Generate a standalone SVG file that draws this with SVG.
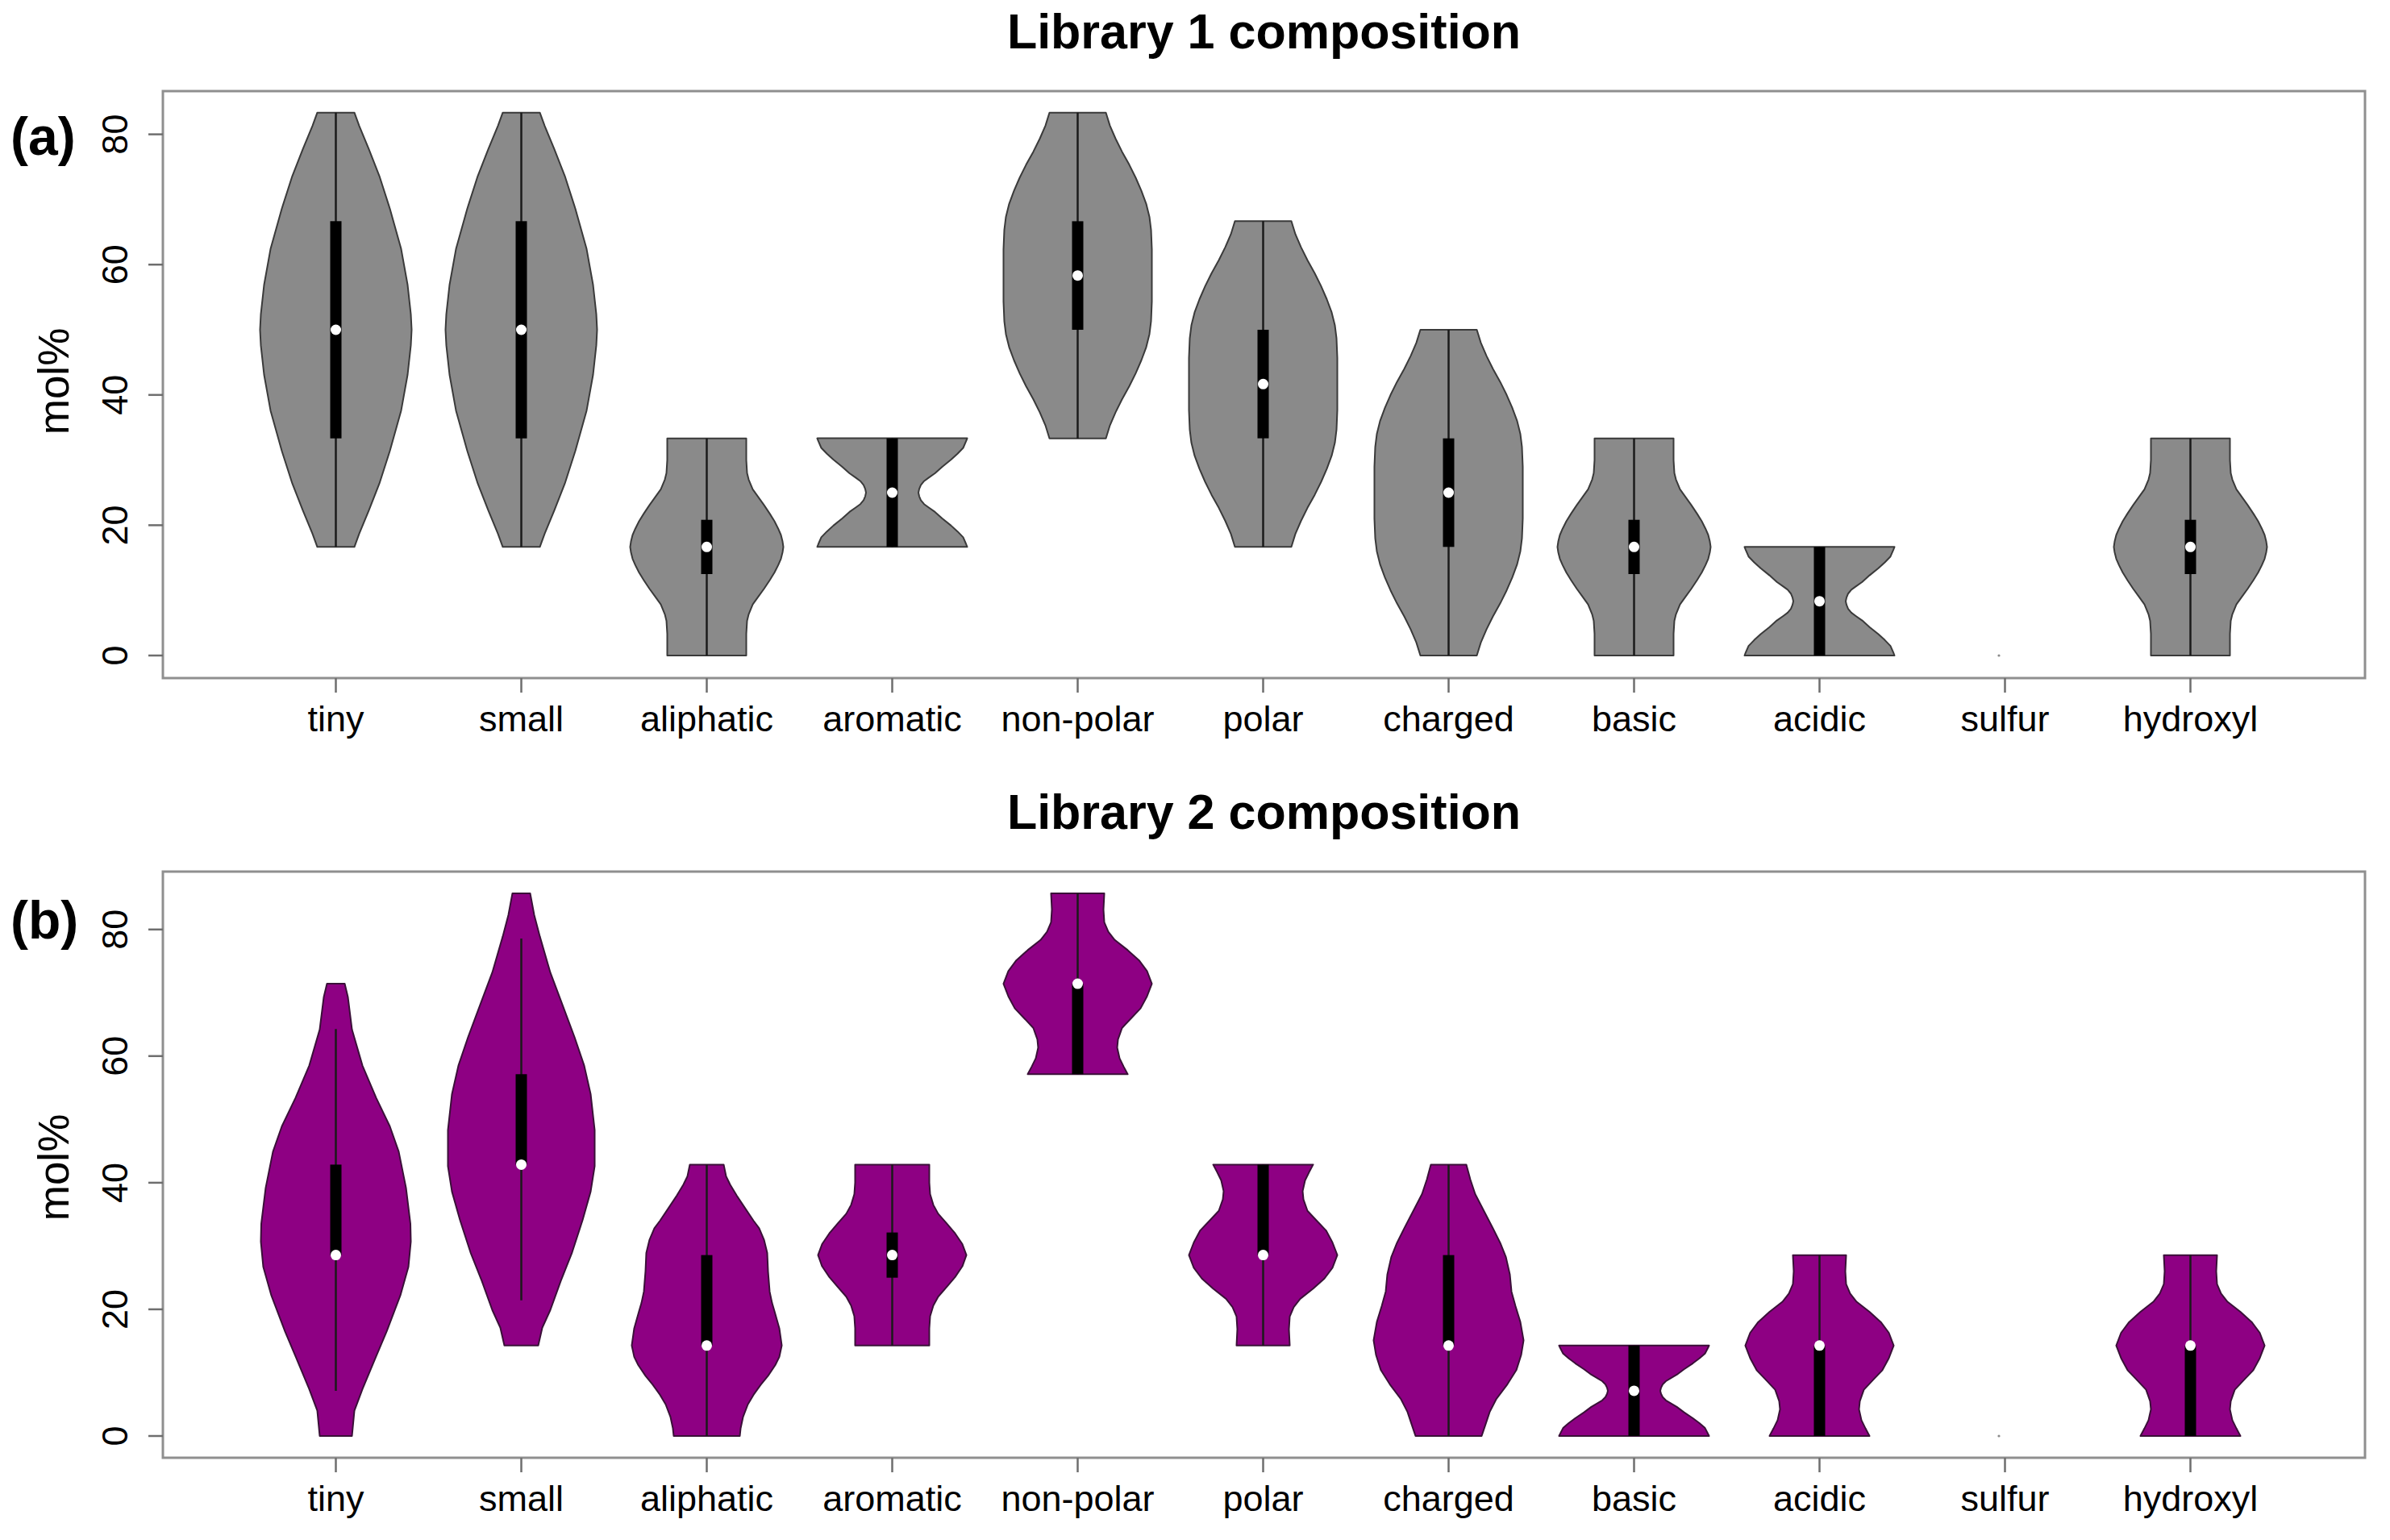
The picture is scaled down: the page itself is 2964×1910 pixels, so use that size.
<svg xmlns="http://www.w3.org/2000/svg" width="2964" height="1910" viewBox="0 0 2964 1910">
<style>
text{font-family:"Liberation Sans",Arial,Helvetica,sans-serif;fill:#000}
.ttl{font-size:61px;font-weight:bold;text-anchor:middle}
.pl{font-size:66px;font-weight:bold}
.yl{font-size:45px;text-anchor:middle}
.xl{font-size:45px;text-anchor:middle}
.lab{font-size:53px;text-anchor:middle}
.frame{fill:none;stroke:#8f8f8f;stroke-width:3}
.tk{stroke:#6e6e6e;stroke-width:2.5}
.va{fill:#8a8a8a;stroke:#3a3a3a;stroke-width:2;stroke-linejoin:round;vector-effect:non-scaling-stroke}
.vb{fill:#8e0083;stroke:#3a1038;stroke-width:2;stroke-linejoin:round;vector-effect:non-scaling-stroke}
.wh{stroke:#1a1a1a;stroke-width:2.5;vector-effect:non-scaling-stroke}
.bar{fill:#000}
.med{fill:#fff}
.dot{fill:#8a8a8a}
</style>
<rect width="2964" height="1910" fill="#fff"/>

<!-- Panel (a) -->
<g id="panel-a-axes">
<text class="ttl" x="1567.5" y="60">Library 1 composition</text>
<text class="pl" x="13" y="192">(a)</text>
<rect class="frame" x="202" y="113" width="2731" height="728"/>
<line class="tk" x1="184" y1="813" x2="202" y2="813"/>
<line class="tk" x1="184" y1="651.4" x2="202" y2="651.4"/>
<line class="tk" x1="184" y1="489.8" x2="202" y2="489.8"/>
<line class="tk" x1="184" y1="328.2" x2="202" y2="328.2"/>
<line class="tk" x1="184" y1="166.6" x2="202" y2="166.6"/>
<text class="yl" transform="translate(158 813) rotate(-90)">0</text>
<text class="yl" transform="translate(158 651.4) rotate(-90)">20</text>
<text class="yl" transform="translate(158 489.8) rotate(-90)">40</text>
<text class="yl" transform="translate(158 328.2) rotate(-90)">60</text>
<text class="yl" transform="translate(158 166.6) rotate(-90)">80</text>
<text class="lab" transform="translate(85 473) rotate(-90)">mol%</text>
<g class="tk">
<line x1="416.5" y1="841" x2="416.5" y2="859"/><line x1="646.5" y1="841" x2="646.5" y2="859"/><line x1="876.5" y1="841" x2="876.5" y2="859"/><line x1="1106.5" y1="841" x2="1106.5" y2="859"/><line x1="1336.5" y1="841" x2="1336.5" y2="859"/><line x1="1566.5" y1="841" x2="1566.5" y2="859"/><line x1="1796.5" y1="841" x2="1796.5" y2="859"/><line x1="2026.5" y1="841" x2="2026.5" y2="859"/><line x1="2256.5" y1="841" x2="2256.5" y2="859"/><line x1="2486.5" y1="841" x2="2486.5" y2="859"/><line x1="2716.5" y1="841" x2="2716.5" y2="859"/>
</g>
<text class="xl" x="416.5" y="907">tiny</text>
<text class="xl" x="646.5" y="907">small</text>
<text class="xl" x="876.5" y="907">aliphatic</text>
<text class="xl" x="1106.5" y="907">aromatic</text>
<text class="xl" x="1336.5" y="907">non-polar</text>
<text class="xl" x="1566.5" y="907">polar</text>
<text class="xl" x="1796.5" y="907">charged</text>
<text class="xl" x="2026.5" y="907">basic</text>
<text class="xl" x="2256.5" y="907">acidic</text>
<text class="xl" x="2486.5" y="907">sulfur</text>
<text class="xl" x="2716.5" y="907">hydroxyl</text>
</g>

<g id="a-tiny"><g transform="translate(416.5 813) scale(1 -8.08)"><path class="va" d="M23,83.33 L29,81.3 L41,77.7 L54,73.6 L67,68.6 L81,62.4 L89,56.9 L93,52.4 L94,50 L93,47.6 L89,43.1 L81,37.6 L67,31.4 L54,26.4 L41,22.3 L29,18.7 L23,16.67 L-23,16.67 L-29,18.7 L-41,22.3 L-54,26.4 L-67,31.4 L-81,37.6 L-89,43.1 L-93,47.6 L-94,50 L-93,52.4 L-89,56.9 L-81,62.4 L-67,68.6 L-54,73.6 L-41,77.7 L-29,81.3 L-23,83.33 Z"/><line class="wh" x1="0" y1="16.67" x2="0" y2="83.33"/><rect class="bar" x="-7" y="33.33" width="14" height="33.34"/></g><circle class="med" cx="416.5" cy="409" r="6.5"/></g>

<g id="a-small"><g transform="translate(646.5 813) scale(1 -8.08)"><path class="va" d="M23,83.33 L29,81.3 L41,77.7 L54,73.6 L67,68.6 L81,62.4 L89,56.9 L93,52.4 L94,50 L93,47.6 L89,43.1 L81,37.6 L67,31.4 L54,26.4 L41,22.3 L29,18.7 L23,16.67 L-23,16.67 L-29,18.7 L-41,22.3 L-54,26.4 L-67,31.4 L-81,37.6 L-89,43.1 L-93,47.6 L-94,50 L-93,52.4 L-89,56.9 L-81,62.4 L-67,68.6 L-54,73.6 L-41,77.7 L-29,81.3 L-23,83.33 Z"/><line class="wh" x1="0" y1="16.67" x2="0" y2="83.33"/><rect class="bar" x="-7" y="33.33" width="14" height="33.34"/></g><circle class="med" cx="646.5" cy="409" r="6.5"/></g>

<g id="a-aliphatic"><g transform="translate(876.5 813) scale(1 -8.08)"><path class="va" d="M49,33.33 L49,30 L50,28 L52,27 L57,25.5 L64,24.3 L71,23.1 L78,21.8 L84,20.6 L88.5,19.5 L92,18.5 L94,17.5 L95,16.67 L94,15.84 L92,14.84 L88.5,13.84 L84,12.74 L78,11.54 L71,10.24 L64,9.04 L57,7.84 L52,6.34 L50,5.33 L49,3.33 L49,0 L-49,0 L-49,3.33 L-50,5.33 L-52,6.34 L-57,7.84 L-64,9.04 L-71,10.24 L-78,11.54 L-84,12.74 L-88.5,13.84 L-92,14.84 L-94,15.84 L-95,16.67 L-94,17.5 L-92,18.5 L-88.5,19.5 L-84,20.6 L-78,21.8 L-71,23.1 L-64,24.3 L-57,25.5 L-52,27 L-50,28 L-49,30 L-49,33.33 Z"/><line class="wh" x1="0" y1="0" x2="0" y2="33.33"/><rect class="bar" x="-7" y="12.5" width="14" height="8.33"/></g><circle class="med" cx="876.5" cy="678.3" r="6.5"/></g>

<g id="a-aromatic"><g transform="translate(1106.5 678.3) scale(1 -8.08)"><path class="va" d="M93,16.67 L91.5,16.2 L88,15.2 L81,14.3 L73,13.4 L62,12.3 L53,11.3 L45,10.6 L39.5,10.1 L35.5,9.5 L33.5,8.9 L32.5,8.33 L33.5,7.77 L35.5,7.17 L39.5,6.57 L45,6.07 L53,5.37 L62,4.37 L73,3.27 L81,2.37 L88,1.47 L91.5,0.47 L93,0 L-93,0 L-91.5,0.47 L-88,1.47 L-81,2.37 L-73,3.27 L-62,4.37 L-53,5.37 L-45,6.07 L-39.5,6.57 L-35.5,7.17 L-33.5,7.77 L-32.5,8.33 L-33.5,8.9 L-35.5,9.5 L-39.5,10.1 L-45,10.6 L-53,11.3 L-62,12.3 L-73,13.4 L-81,14.3 L-88,15.2 L-91.5,16.2 L-93,16.67 Z"/><line class="wh" x1="0" y1="0" x2="0" y2="16.67"/><rect class="bar" x="-7" y="0" width="14" height="16.67"/></g><circle class="med" cx="1106.5" cy="611" r="6.5"/></g>

<g id="a-nonpolar"><g transform="translate(1336.5 543.7) scale(1 -8.08)"><path class="va" d="M35,50 L40,48 L47,46 L55,44 L64,42 L72,40 L79,38 L85,36 L89,34 L91,32 L92,29 L92,21 L91,18 L89,16 L85,14 L79,12 L72,10 L64,8 L55,6 L47,4 L40,2 L35,0 L-35,0 L-40,2 L-47,4 L-55,6 L-64,8 L-72,10 L-79,12 L-85,14 L-89,16 L-91,18 L-92,21 L-92,29 L-91,32 L-89,34 L-85,36 L-79,38 L-72,40 L-64,42 L-55,44 L-47,46 L-40,48 L-35,50 Z"/><line class="wh" x1="0" y1="0" x2="0" y2="50"/><rect class="bar" x="-7" y="16.67" width="14" height="16.66"/></g><circle class="med" cx="1336.5" cy="341.7" r="6.5"/></g>

<g id="a-polar"><g transform="translate(1566.5 678.3) scale(1 -8.08)"><path class="va" d="M35,50 L40,48 L47,46 L55,44 L64,42 L72,40 L79,38 L85,36 L89,34 L91,32 L92,29 L92,21 L91,18 L89,16 L85,14 L79,12 L72,10 L64,8 L55,6 L47,4 L40,2 L35,0 L-35,0 L-40,2 L-47,4 L-55,6 L-64,8 L-72,10 L-79,12 L-85,14 L-89,16 L-91,18 L-92,21 L-92,29 L-91,32 L-89,34 L-85,36 L-79,38 L-72,40 L-64,42 L-55,44 L-47,46 L-40,48 L-35,50 Z"/><line class="wh" x1="0" y1="0" x2="0" y2="50"/><rect class="bar" x="-7" y="16.67" width="14" height="16.66"/></g><circle class="med" cx="1566.5" cy="476.3" r="6.5"/></g>

<g id="a-charged"><g transform="translate(1796.5 813) scale(1 -8.08)"><path class="va" d="M35,50 L40,48 L47,46 L55,44 L64,42 L72,40 L79,38 L85,36 L89,34 L91,32 L92,29 L92,21 L91,18 L89,16 L85,14 L79,12 L72,10 L64,8 L55,6 L47,4 L40,2 L35,0 L-35,0 L-40,2 L-47,4 L-55,6 L-64,8 L-72,10 L-79,12 L-85,14 L-89,16 L-91,18 L-92,21 L-92,29 L-91,32 L-89,34 L-85,36 L-79,38 L-72,40 L-64,42 L-55,44 L-47,46 L-40,48 L-35,50 Z"/><line class="wh" x1="0" y1="0" x2="0" y2="50"/><rect class="bar" x="-7" y="16.67" width="14" height="16.66"/></g><circle class="med" cx="1796.5" cy="611" r="6.5"/></g>

<g id="a-basic"><g transform="translate(2026.5 813) scale(1 -8.08)"><path class="va" d="M49,33.33 L49,30 L50,28 L52,27 L57,25.5 L64,24.3 L71,23.1 L78,21.8 L84,20.6 L88.5,19.5 L92,18.5 L94,17.5 L95,16.67 L94,15.84 L92,14.84 L88.5,13.84 L84,12.74 L78,11.54 L71,10.24 L64,9.04 L57,7.84 L52,6.34 L50,5.33 L49,3.33 L49,0 L-49,0 L-49,3.33 L-50,5.33 L-52,6.34 L-57,7.84 L-64,9.04 L-71,10.24 L-78,11.54 L-84,12.74 L-88.5,13.84 L-92,14.84 L-94,15.84 L-95,16.67 L-94,17.5 L-92,18.5 L-88.5,19.5 L-84,20.6 L-78,21.8 L-71,23.1 L-64,24.3 L-57,25.5 L-52,27 L-50,28 L-49,30 L-49,33.33 Z"/><line class="wh" x1="0" y1="0" x2="0" y2="33.33"/><rect class="bar" x="-7" y="12.5" width="14" height="8.33"/></g><circle class="med" cx="2026.5" cy="678.3" r="6.5"/></g>

<g id="a-acidic"><g transform="translate(2256.5 813) scale(1 -8.08)"><path class="va" d="M93,16.67 L91.5,16.2 L88,15.2 L81,14.3 L73,13.4 L62,12.3 L53,11.3 L45,10.6 L39.5,10.1 L35.5,9.5 L33.5,8.9 L32.5,8.33 L33.5,7.77 L35.5,7.17 L39.5,6.57 L45,6.07 L53,5.37 L62,4.37 L73,3.27 L81,2.37 L88,1.47 L91.5,0.47 L93,0 L-93,0 L-91.5,0.47 L-88,1.47 L-81,2.37 L-73,3.27 L-62,4.37 L-53,5.37 L-45,6.07 L-39.5,6.57 L-35.5,7.17 L-33.5,7.77 L-32.5,8.33 L-33.5,8.9 L-35.5,9.5 L-39.5,10.1 L-45,10.6 L-53,11.3 L-62,12.3 L-73,13.4 L-81,14.3 L-88,15.2 L-91.5,16.2 L-93,16.67 Z"/><line class="wh" x1="0" y1="0" x2="0" y2="16.67"/><rect class="bar" x="-7" y="0" width="14" height="16.67"/></g><circle class="med" cx="2256.5" cy="745.7" r="6.5"/></g>

<g id="a-sulfur"><circle class="dot" cx="2479" cy="813" r="1.6"/></g>

<g id="a-hydroxyl"><g transform="translate(2716.5 813) scale(1 -8.08)"><path class="va" d="M49,33.33 L49,30 L50,28 L52,27 L57,25.5 L64,24.3 L71,23.1 L78,21.8 L84,20.6 L88.5,19.5 L92,18.5 L94,17.5 L95,16.67 L94,15.84 L92,14.84 L88.5,13.84 L84,12.74 L78,11.54 L71,10.24 L64,9.04 L57,7.84 L52,6.34 L50,5.33 L49,3.33 L49,0 L-49,0 L-49,3.33 L-50,5.33 L-52,6.34 L-57,7.84 L-64,9.04 L-71,10.24 L-78,11.54 L-84,12.74 L-88.5,13.84 L-92,14.84 L-94,15.84 L-95,16.67 L-94,17.5 L-92,18.5 L-88.5,19.5 L-84,20.6 L-78,21.8 L-71,23.1 L-64,24.3 L-57,25.5 L-52,27 L-50,28 L-49,30 L-49,33.33 Z"/><line class="wh" x1="0" y1="0" x2="0" y2="33.33"/><rect class="bar" x="-7" y="12.5" width="14" height="8.33"/></g><circle class="med" cx="2716.5" cy="678.3" r="6.5"/></g>

<!-- Panel (b) -->
<g id="panel-b-axes">
<text class="ttl" x="1567.5" y="1028">Library 2 composition</text>
<text class="pl" x="13" y="1164">(b)</text>
<rect class="frame" x="202" y="1081" width="2731" height="727"/>
<line class="tk" x1="184" y1="1781" x2="202" y2="1781"/>
<line class="tk" x1="184" y1="1623.9" x2="202" y2="1623.9"/>
<line class="tk" x1="184" y1="1466.9" x2="202" y2="1466.9"/>
<line class="tk" x1="184" y1="1309.8" x2="202" y2="1309.8"/>
<line class="tk" x1="184" y1="1152.8" x2="202" y2="1152.8"/>
<text class="yl" transform="translate(158 1781) rotate(-90)">0</text>
<text class="yl" transform="translate(158 1623.9) rotate(-90)">20</text>
<text class="yl" transform="translate(158 1466.9) rotate(-90)">40</text>
<text class="yl" transform="translate(158 1309.8) rotate(-90)">60</text>
<text class="yl" transform="translate(158 1152.8) rotate(-90)">80</text>
<text class="lab" transform="translate(85 1448) rotate(-90)">mol%</text>
<g class="tk">
<line x1="416.5" y1="1808" x2="416.5" y2="1826"/><line x1="646.5" y1="1808" x2="646.5" y2="1826"/><line x1="876.5" y1="1808" x2="876.5" y2="1826"/><line x1="1106.5" y1="1808" x2="1106.5" y2="1826"/><line x1="1336.5" y1="1808" x2="1336.5" y2="1826"/><line x1="1566.5" y1="1808" x2="1566.5" y2="1826"/><line x1="1796.5" y1="1808" x2="1796.5" y2="1826"/><line x1="2026.5" y1="1808" x2="2026.5" y2="1826"/><line x1="2256.5" y1="1808" x2="2256.5" y2="1826"/><line x1="2486.5" y1="1808" x2="2486.5" y2="1826"/><line x1="2716.5" y1="1808" x2="2716.5" y2="1826"/>
</g>
<text class="xl" x="416.5" y="1874">tiny</text>
<text class="xl" x="646.5" y="1874">small</text>
<text class="xl" x="876.5" y="1874">aliphatic</text>
<text class="xl" x="1106.5" y="1874">aromatic</text>
<text class="xl" x="1336.5" y="1874">non-polar</text>
<text class="xl" x="1566.5" y="1874">polar</text>
<text class="xl" x="1796.5" y="1874">charged</text>
<text class="xl" x="2026.5" y="1874">basic</text>
<text class="xl" x="2256.5" y="1874">acidic</text>
<text class="xl" x="2486.5" y="1874">sulfur</text>
<text class="xl" x="2716.5" y="1874">hydroxyl</text>
</g>

<g id="b-tiny"><g transform="translate(416.5 1781) scale(1 -7.853)"><path class="vb" d="M11,71.43 L15,69.3 L20,64.2 L33,58.5 L50,53.4 L67,48.9 L78,44.9 L87,39.2 L92.5,33.5 L93,30.7 L90,26.7 L80,22.2 L63,16.5 L50,12.6 L33,7.4 L23,4 L20,0 L-20,0 L-23,4 L-33,7.4 L-50,12.6 L-63,16.5 L-80,22.2 L-90,26.7 L-93,30.7 L-92.5,33.5 L-87,39.2 L-78,44.9 L-67,48.9 L-50,53.4 L-33,58.5 L-20,64.2 L-15,69.3 L-11,71.43 Z"/><line class="wh" x1="0" y1="7.14" x2="0" y2="64.29"/><rect class="bar" x="-7" y="28.57" width="14" height="14.29"/></g><circle class="med" cx="416.5" cy="1556.6" r="6.5"/></g>

<g id="b-small"><g transform="translate(646.5 1781) scale(1 -7.853)"><path class="vb" d="M11,85.71 L16,82.3 L23,78.9 L36,73.2 L51,68.1 L66,63 L78,58.5 L86,54 L91,48.3 L91,42.6 L86,38.6 L76,34.1 L63,29 L49,24.5 L36,19.9 L26,17.1 L21,14.29 L-21,14.29 L-26,17.1 L-36,19.9 L-49,24.5 L-63,29 L-76,34.1 L-86,38.6 L-91,42.6 L-91,48.3 L-86,54 L-78,58.5 L-66,63 L-51,68.1 L-36,73.2 L-23,78.9 L-16,82.3 L-11,85.71 Z"/><line class="wh" x1="0" y1="21.43" x2="0" y2="78.57"/><rect class="bar" x="-7" y="42.86" width="14" height="14.28"/></g><circle class="med" cx="646.5" cy="1444.4" r="6.5"/></g>

<g id="b-aliphatic"><g transform="translate(876.5 1781) scale(1 -7.853)"><path class="vb" d="M21,42.86 L24,41 L29,39.7 L37,38 L48,35.9 L58,34 L65,32.8 L71,31 L75,28.9 L76,26 L78,22.8 L81,21 L84,19.7 L90,17 L93,14.3 L90,12.5 L85,11.2 L76,9.5 L67,8.1 L58,6.5 L51,5 L45,3 L42,1.2 L41,0 L-41,0 L-42,1.2 L-45,3 L-51,5 L-58,6.5 L-67,8.1 L-76,9.5 L-85,11.2 L-90,12.5 L-93,14.3 L-90,17 L-84,19.7 L-81,21 L-78,22.8 L-76,26 L-75,28.9 L-71,31 L-65,32.8 L-58,34 L-48,35.9 L-37,38 L-29,39.7 L-24,41 L-21,42.86 Z"/><line class="wh" x1="0" y1="0" x2="0" y2="42.86"/><rect class="bar" x="-7" y="14.29" width="14" height="14.28"/></g><circle class="med" cx="876.5" cy="1668.8" r="6.5"/></g>

<g id="b-aromatic"><g transform="translate(1106.5 1781) scale(1 -7.853)"><path class="vb" d="M46,42.86 L46,40 L47,38.2 L51,36.5 L57,35.1 L68,33.5 L78,32 L87,30.3 L92,28.57 L87,26.8 L78,25.1 L68,23.6 L57,22 L51,20.6 L47,18.9 L46,17 L46,14.29 L-46,14.29 L-46,17 L-47,18.9 L-51,20.6 L-57,22 L-68,23.6 L-78,25.1 L-87,26.8 L-92,28.57 L-87,30.3 L-78,32 L-68,33.5 L-57,35.1 L-51,36.5 L-47,38.2 L-46,40 L-46,42.86 Z"/><line class="wh" x1="0" y1="14.29" x2="0" y2="42.86"/><rect class="bar" x="-7" y="25" width="14" height="7.14"/></g><circle class="med" cx="1106.5" cy="1556.6" r="6.5"/></g>

<g id="b-nonpolar"><g transform="translate(1336.5 1332.3) scale(1 -7.853)"><path class="vb" d="M33,28.57 L32,26 L33,24 L38,22.5 L46,21.2 L62,19.6 L76,18 L86,16.3 L92,14.29 L86,12.3 L78,10.4 L66,8.8 L55,7.3 L50,5.5 L49,4.2 L52,2.5 L57,1.2 L62,0 L-62,0 L-57,1.2 L-52,2.5 L-49,4.2 L-50,5.5 L-55,7.3 L-66,8.8 L-78,10.4 L-86,12.3 L-92,14.29 L-86,16.3 L-76,18 L-62,19.6 L-46,21.2 L-38,22.5 L-33,24 L-32,26 L-33,28.57 Z"/><line class="wh" x1="0" y1="0" x2="0" y2="28.57"/><rect class="bar" x="-7" y="0" width="14" height="14.29"/></g><circle class="med" cx="1336.5" cy="1220.1" r="6.5"/></g>

<g id="b-polar"><g transform="translate(1566.5 1444.4) scale(1 7.853)"><path class="vb" d="M33,28.57 L32,26 L33,24 L38,22.5 L46,21.2 L62,19.6 L76,18 L86,16.3 L92,14.29 L86,12.3 L78,10.4 L66,8.8 L55,7.3 L50,5.5 L49,4.2 L52,2.5 L57,1.2 L62,0 L-62,0 L-57,1.2 L-52,2.5 L-49,4.2 L-50,5.5 L-55,7.3 L-66,8.8 L-78,10.4 L-86,12.3 L-92,14.29 L-86,16.3 L-76,18 L-62,19.6 L-46,21.2 L-38,22.5 L-33,24 L-32,26 L-33,28.57 Z"/><line class="wh" x1="0" y1="0" x2="0" y2="28.57"/><rect class="bar" x="-7" y="0" width="14" height="14.29"/></g><circle class="med" cx="1566.5" cy="1556.6" r="6.5"/></g>

<g id="b-charged"><g transform="translate(1796.5 1781) scale(1 -7.853)"><path class="vb" d="M22,42.86 L27,40.5 L33,38.2 L44,35.5 L55,32.8 L64,30.5 L71,28.3 L76,25.5 L78,22.8 L83,20.5 L89,18 L93,15.1 L90,12.8 L84,10.4 L72,8 L59,5.8 L51,3.8 L46,1.9 L41,0 L-41,0 L-46,1.9 L-51,3.8 L-59,5.8 L-72,8 L-84,10.4 L-90,12.8 L-93,15.1 L-89,18 L-83,20.5 L-78,22.8 L-76,25.5 L-71,28.3 L-64,30.5 L-55,32.8 L-44,35.5 L-33,38.2 L-27,40.5 L-22,42.86 Z"/><line class="wh" x1="0" y1="0" x2="0" y2="42.86"/><rect class="bar" x="-7" y="14.29" width="14" height="14.28"/></g><circle class="med" cx="1796.5" cy="1668.8" r="6.5"/></g>

<g id="b-basic"><g transform="translate(2026.5 1781) scale(1 -6.731)"><path class="vb" d="M93,16.67 L91.5,16.2 L88,15.2 L81,14.3 L73,13.4 L62,12.3 L53,11.3 L45,10.6 L39.5,10.1 L35.5,9.5 L33.5,8.9 L32.5,8.33 L33.5,7.77 L35.5,7.17 L39.5,6.57 L45,6.07 L53,5.37 L62,4.37 L73,3.27 L81,2.37 L88,1.47 L91.5,0.47 L93,0 L-93,0 L-91.5,0.47 L-88,1.47 L-81,2.37 L-73,3.27 L-62,4.37 L-53,5.37 L-45,6.07 L-39.5,6.57 L-35.5,7.17 L-33.5,7.77 L-32.5,8.33 L-33.5,8.9 L-35.5,9.5 L-39.5,10.1 L-45,10.6 L-53,11.3 L-62,12.3 L-73,13.4 L-81,14.3 L-88,15.2 L-91.5,16.2 L-93,16.67 Z"/><line class="wh" x1="0" y1="0" x2="0" y2="16.67"/><rect class="bar" x="-7" y="0" width="14" height="16.67"/></g><circle class="med" cx="2026.5" cy="1724.9" r="6.5"/></g>

<g id="b-acidic"><g transform="translate(2256.5 1781) scale(1 -7.853)"><path class="vb" d="M33,28.57 L32,26 L33,24 L38,22.5 L46,21.2 L62,19.6 L76,18 L86,16.3 L92,14.29 L86,12.3 L78,10.4 L66,8.8 L55,7.3 L50,5.5 L49,4.2 L52,2.5 L57,1.2 L62,0 L-62,0 L-57,1.2 L-52,2.5 L-49,4.2 L-50,5.5 L-55,7.3 L-66,8.8 L-78,10.4 L-86,12.3 L-92,14.29 L-86,16.3 L-76,18 L-62,19.6 L-46,21.2 L-38,22.5 L-33,24 L-32,26 L-33,28.57 Z"/><line class="wh" x1="0" y1="0" x2="0" y2="28.57"/><rect class="bar" x="-7" y="0" width="14" height="14.29"/></g><circle class="med" cx="2256.5" cy="1668.8" r="6.5"/></g>

<g id="b-sulfur"><circle class="dot" cx="2479" cy="1781" r="1.6"/></g>

<g id="b-hydroxyl"><g transform="translate(2716.5 1781) scale(1 -7.853)"><path class="vb" d="M33,28.57 L32,26 L33,24 L38,22.5 L46,21.2 L62,19.6 L76,18 L86,16.3 L92,14.29 L86,12.3 L78,10.4 L66,8.8 L55,7.3 L50,5.5 L49,4.2 L52,2.5 L57,1.2 L62,0 L-62,0 L-57,1.2 L-52,2.5 L-49,4.2 L-50,5.5 L-55,7.3 L-66,8.8 L-78,10.4 L-86,12.3 L-92,14.29 L-86,16.3 L-76,18 L-62,19.6 L-46,21.2 L-38,22.5 L-33,24 L-32,26 L-33,28.57 Z"/><line class="wh" x1="0" y1="0" x2="0" y2="28.57"/><rect class="bar" x="-7" y="0" width="14" height="14.29"/></g><circle class="med" cx="2716.5" cy="1668.8" r="6.5"/></g>

<g id="connectors"/>
</svg>
